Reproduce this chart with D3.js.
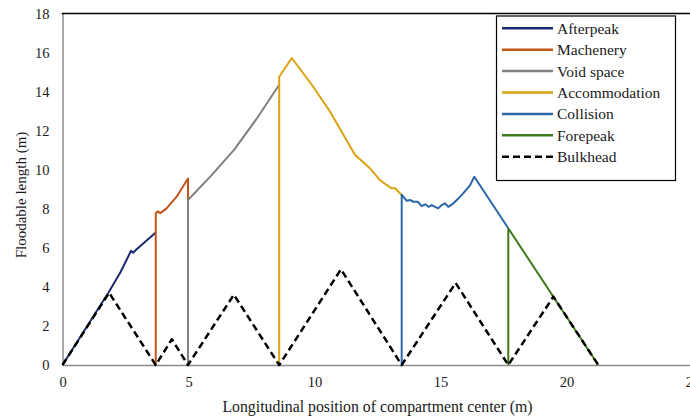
<!DOCTYPE html>
<html>
<head>
<meta charset="utf-8">
<script src="https://cdn.jsdelivr.net/npm/d3@7"></script>
<style>
  html, body { margin: 0; padding: 0; background: #fff; }
  svg { display: block; }
  svg text { font-family: "Liberation Serif", "Times New Roman", Times, serif; fill: #1a1a1a; }
</style>
</head>
<body>
<svg id="chart" width="690" height="417"></svg>
<script>
// Floodable length curves per compartment, [position (m), floodable length (m)]
const afterpeak = [[0,0],[1.82,3.7],[2.3,4.75],[2.72,5.85],[2.8,5.75],[2.92,5.9],[3.7,6.78]];
const machenery = [[3.7,0],[3.7,7.77],[3.78,7.87],[3.88,7.78],[4.13,8.02],[4.53,8.62],[4.98,9.55],[4.98,8.45]];
const voidSpace = [[4.98,0],[4.98,8.45],[5.9,9.7],[6.8,11.0],[7.7,12.6],[8.6,14.35]];
const accommodation = [[8.6,0],[8.6,14.76],[9.1,15.72],[9.95,14.25],[10.62,12.97],[11.61,10.75],[12.2,10.07],[12.6,9.47],[12.86,9.22],[13.06,9.05],[13.2,9.05],[13.46,8.7]];
const collision = [[13.46,0],[13.46,8.72],[13.66,8.41],[13.79,8.45],[13.92,8.36],[14.1,8.36],[14.25,8.14],[14.39,8.23],[14.52,8.1],[14.65,8.19],[14.78,8.1],[14.91,8.02],[15.05,8.19],[15.18,8.28],[15.31,8.1],[15.51,8.28],[15.71,8.53],[15.9,8.79],[16.17,9.2],[16.34,9.64],[17.69,7.0]];
const forepeak = [[17.69,0],[17.69,7.0],[21.26,0]];
const bulkhead = [[0,0],[1.85,3.7],[3.7,0],[4.34,1.32],[4.98,0],[6.8,3.6],[8.6,0],[11.05,4.9],[13.46,0],[15.6,4.2],[17.69,0],[19.48,3.5],[21.26,0]];

const seriesNames = ["Afterpeak","Machenery","Void space","Accommodation","Collision","Forepeak","Bulkhead"];
const seriesData = [afterpeak, machenery, voidSpace, accommodation, collision, forepeak, bulkhead];
const seriesColors = ["#1b2a72","#c2541a","#808080","#dba20e","#2b67a8","#3f7a1c","#000000"];

const xTicks = [0,5,10,15,20,25];
const yTicks = [0,2,4,6,8,10,12,14,16,18];

const serif = "'Liberation Serif', 'Times New Roman', Times, serif";

const svg = d3.select("#chart");
const x = d3.scaleLinear().domain([0,25]).range([62.5, 692.5]);
const y = d3.scaleLinear().domain([0,18]).range([365, 13.5]);

// axes
const yAxis = svg.append("g").attr("transform", `translate(${x(0)},0)`)
  .call(d3.axisLeft(y).tickValues(yTicks).tickSize(0).tickSizeOuter(0).tickPadding(13));
const xAxis = svg.append("g").attr("transform", `translate(0,${y(0)})`)
  .call(d3.axisBottom(x).tickValues(xTicks).tickSize(0).tickSizeOuter(0).tickPadding(12));
[yAxis, xAxis].forEach(g => {
  g.attr("font-family", serif).attr("font-size", 14.5);
  g.select(".domain").attr("stroke", "#8c8c8c").attr("stroke-width", 1.5);
  g.selectAll("text").attr("font-family", serif).attr("font-size", 14.5).attr("fill", "#1a1a1a");
});

// top frame line
svg.append("line").attr("x1", x(0) - 0.75).attr("x2", 690).attr("y1", y(18)).attr("y2", y(18))
  .attr("stroke", "#000").attr("stroke-width", 1.6);

// axis titles
svg.append("text").attr("x", x(12.5)).attr("y", 412).attr("text-anchor", "middle")
  .attr("font-family", serif).attr("font-size", 15.8)
  .text("Longitudinal position of compartment center (m)");
svg.append("text").attr("transform", "translate(26,195) rotate(-90)").attr("text-anchor", "middle")
  .attr("font-family", serif).attr("font-size", 15)
  .text("Floodable length (m)");

// series
const line = d3.line().x(d => x(d[0])).y(d => y(d[1]));
seriesData.forEach((data, i) => {
  const isBulk = seriesNames[i] === "Bulkhead";
  svg.append("path").datum(data)
    .attr("d", line)
    .attr("fill", "none")
    .attr("stroke", seriesColors[i])
    .attr("stroke-width", isBulk ? 2.5 : 2)
    .attr("stroke-linejoin", "round")
    .attr("stroke-dasharray", isBulk ? "7,4" : null);
});

// legend
const lg = svg.append("g");
lg.append("rect").attr("x", 496.5).attr("y", 16).attr("width", 179).attr("height", 164.5)
  .attr("fill", "#fff").attr("stroke", "#000").attr("stroke-width", 1.2);
seriesNames.forEach((name, i) => {
  const yy = 28.3 + i * 21.4;
  lg.append("line").attr("x1", 502).attr("x2", 553).attr("y1", yy).attr("y2", yy)
    .attr("stroke", seriesColors[i]).attr("stroke-width", 2.5)
    .attr("stroke-dasharray", name === "Bulkhead" ? "7,4" : null);
  lg.append("text").attr("x", 557).attr("y", yy).attr("dy", "0.35em")
    .attr("font-family", serif).attr("font-size", 15.5).text(name);
});
</script>
</body>
</html>
